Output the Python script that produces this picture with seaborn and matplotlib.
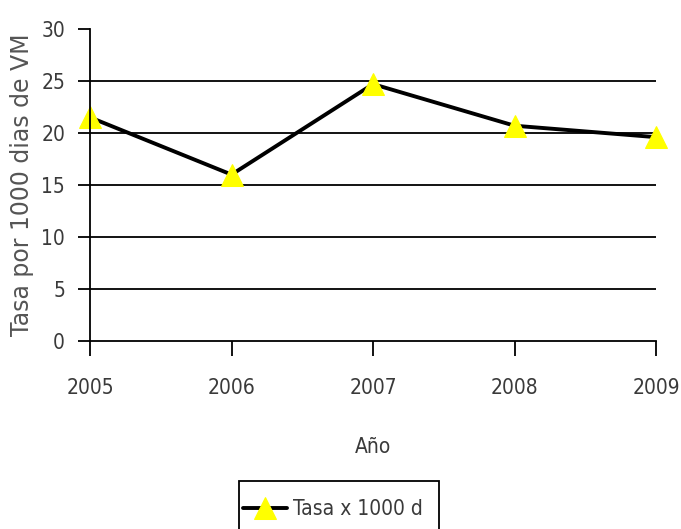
import matplotlib
matplotlib.use("Agg")
import matplotlib.pyplot as plt
from matplotlib.font_manager import FontProperties
from matplotlib.patches import Rectangle
import seaborn as sns
import pandas as pd

# Ventilator-associated rate per 1000 ventilator days, by year
years = [2005, 2006, 2007, 2008, 2009]
rates = [21.5, 16.0, 24.7, 20.7, 19.6]
y_ticks = [0, 5, 10, 15, 20, 25, 30]
series_name = "Tasa x 1000 d"

df = pd.DataFrame({"Año": years, series_name: rates})

sns.set_theme(style="white")
text_col = "#3a3a3a"
narrow = FontProperties(family="DejaVu Sans", stretch="condensed", size=15)

W, H = 681, 529
fig = plt.figure(figsize=(W / 100, H / 100), dpi=100)
ax = fig.add_axes([0.1322, 0.3554, 0.8311, 0.5898])

sns.lineplot(data=df, x="Año", y=series_name, ax=ax, color="black",
             linewidth=2.8, marker="^", markersize=16,
             markerfacecolor="#ffff00", markeredgecolor="#ffff00",
             label=series_name, clip_on=False)

ax.set_xlim(years[0], years[-1])
ax.set_ylim(0, 30)
ax.set_yticks(y_ticks)
ax.set_xticks(years)
ax.set_xticklabels([str(y) for y in years], fontproperties=narrow,
                   color=text_col)
ax.set_yticklabels([str(t) for t in y_ticks], fontproperties=narrow,
                   color=text_col)

# horizontal gridlines at each major tick except the top
for t in y_ticks[1:-1]:
    ax.axhline(t, color="black", linewidth=1.3, zorder=0)

for side in ["top", "right"]:
    ax.spines[side].set_visible(False)
for side in ["left", "bottom"]:
    ax.spines[side].set_color("black")
    ax.spines[side].set_linewidth(1.3)

ax.tick_params(axis="x", direction="out", length=11, width=1.3,
               color="black", pad=16, bottom=True)
ax.tick_params(axis="y", direction="out", length=9, width=1.3,
               color="black", pad=9, left=True)

ax.set_xlabel("Año", fontproperties=narrow, color=text_col, labelpad=28)
ax.set_ylabel("Tasa por 1000 dias de VM", fontfamily="DejaVu Sans",
              fontsize=17, color="#555555", labelpad=5)

# legend without its own frame; a taller box is drawn around it below
leg = ax.legend(loc="center left", bbox_to_anchor=(243 / W, 1 - 509 / H),
                bbox_transform=fig.transFigure, frameon=False,
                prop=narrow, handlelength=2.1,
                handletextpad=0.3, borderpad=0.0, borderaxespad=0)
for txt in leg.get_texts():
    txt.set_color(text_col)

fig.patches.append(Rectangle((239 / W, 1 - 540 / H), 200 / W, 59 / H,
                             transform=fig.transFigure, fill=False,
                             edgecolor="black", linewidth=1.3))

fig.savefig("out.png", dpi=100)
